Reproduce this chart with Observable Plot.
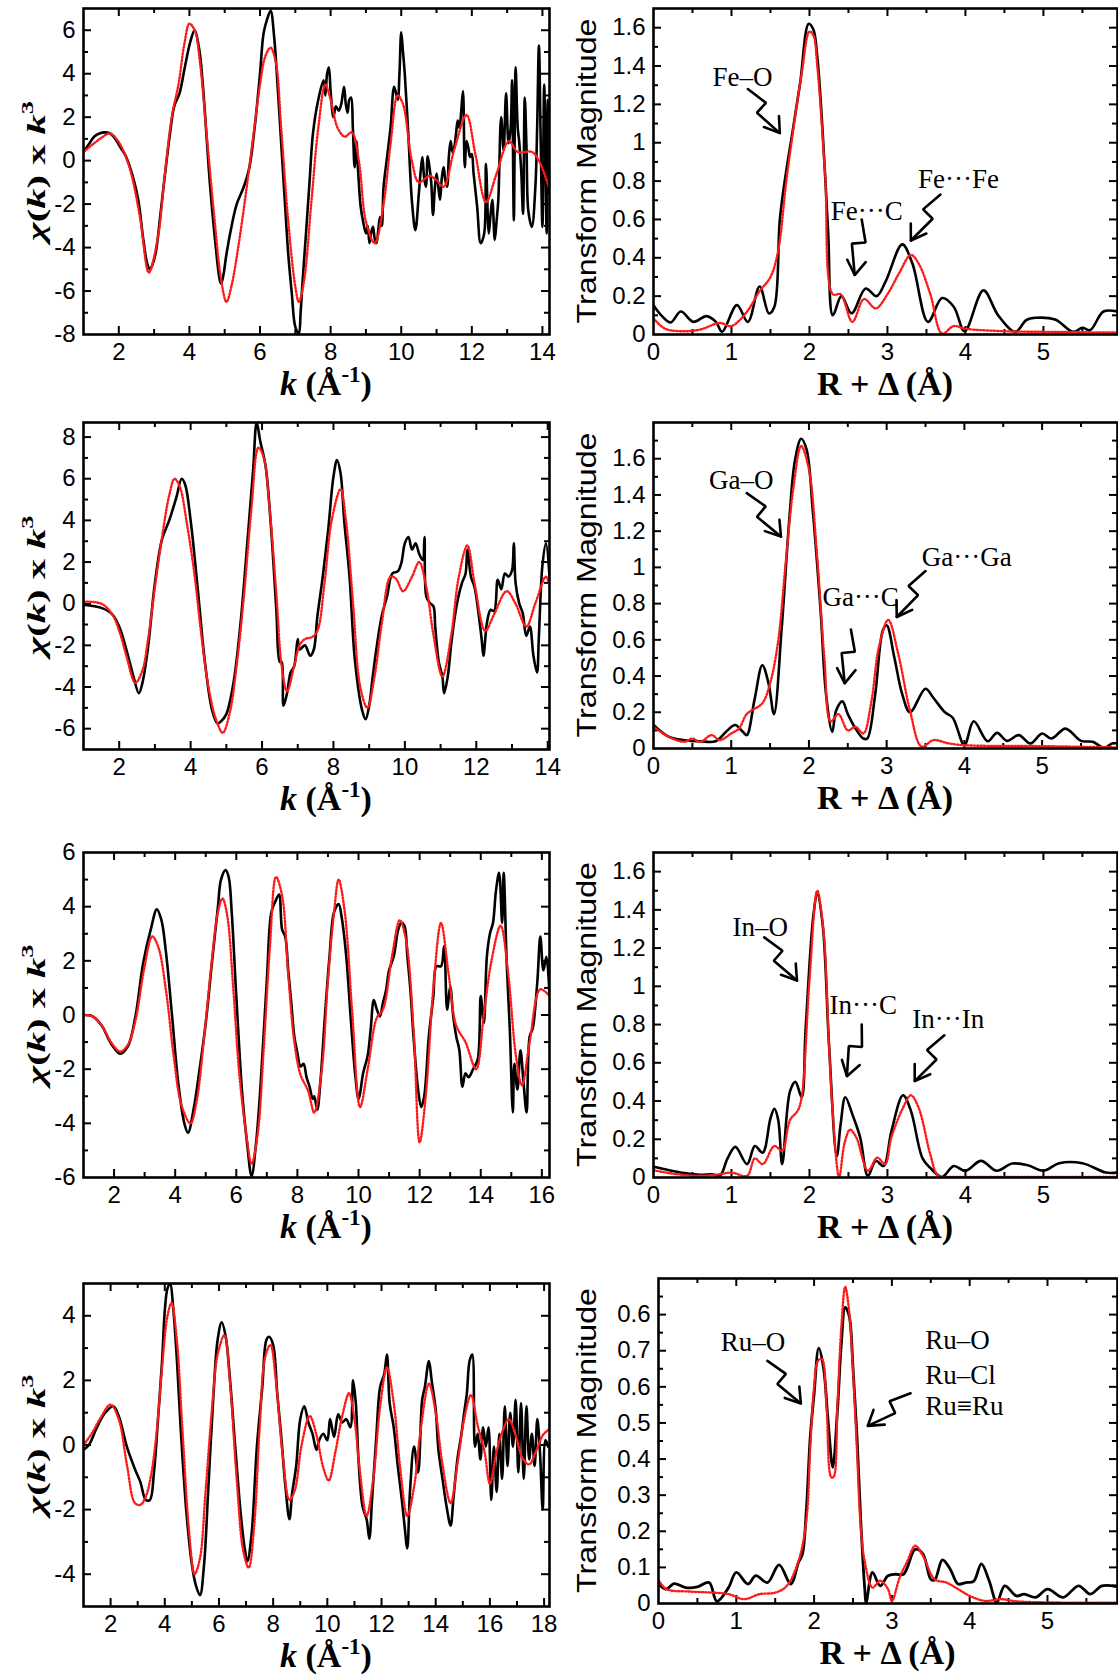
<!DOCTYPE html>
<html><head><meta charset="utf-8">
<script src="https://cdn.jsdelivr.net/npm/d3@7"></script>
<script src="https://cdn.jsdelivr.net/npm/@observablehq/plot@0.6"></script>
<style>
html,body{margin:0;padding:0;background:#fff;}
#wrap{position:relative;width:1118px;height:1680px;overflow:hidden;background:#fff;}
#wrap svg{position:absolute;}
</style></head><body><div id="wrap"></div>
<script>
// ---------------- DATA ----------------
// Fe : chi(k)*k^3  (experiment, fit)
const feChiExp = [[1.0,0.4],[1.15,0.75],[1.3,1.1],[1.45,1.25],[1.6,1.3],[1.75,1.25],[1.9,1.0],[2.05,0.6],[2.2,0.2],[2.4,-0.75],[2.55,-1.8],[2.7,-3.7],[2.8,-4.7],[2.88,-5.0],[2.95,-4.8],[3.05,-4.2],[3.17,-2.6],[3.3,-0.75],[3.45,1.25],[3.57,2.5],[3.72,3.1],[3.87,4.3],[4.03,5.5],[4.15,6.0],[4.28,5.1],[4.38,3.5],[4.48,1.25],[4.58,-1.05],[4.73,-3.7],[4.86,-5.5],[4.9,-5.66],[4.97,-5.2],[5.04,-4.4],[5.19,-3.05],[5.34,-2.0],[5.54,-1.2],[5.7,-0.3],[5.85,1.55],[6.0,4.0],[6.1,5.85],[6.2,6.5],[6.3,6.9],[6.4,5.7],[6.5,3.4],[6.6,0.8],[6.7,-1.8],[6.8,-4.3],[6.9,-6.1],[7.0,-7.65],[7.1,-7.96],[7.15,-7.0],[7.2,-5.7],[7.3,-3.4],[7.4,-1.06],[7.5,1.25],[7.65,2.8],[7.8,3.7],[7.85,3.0],[7.9,4.0],[7.95,4.3],[8.0,3.2],[8.08,2.0],[8.15,2.5],[8.23,2.3],[8.3,2.6],[8.38,3.4],[8.43,2.6],[8.48,2.2],[8.53,2.8],[8.58,2.9],[8.63,1.5],[8.68,-0.3],[8.73,0.9],[8.78,-0.5],[8.85,-2.1],[8.92,-2.8],[9.0,-3.35],[9.05,-3.0],[9.1,-3.8],[9.15,-3.3],[9.2,-3.05],[9.25,-3.6],[9.3,-3.8],[9.35,-3.2],[9.4,-2.6],[9.45,-3.0],[9.5,-1.2],[9.6,0.17],[9.7,1.55],[9.8,3.4],[9.9,2.8],[9.95,4.0],[10.0,5.9],[10.05,5.0],[10.1,4.0],[10.2,1.25],[10.3,-1.8],[10.4,-3.2],[10.5,-1.5],[10.55,-0.5],[10.6,0.17],[10.65,-0.8],[10.7,-1.2],[10.75,0.2],[10.8,-0.3],[10.85,-1.0],[10.9,-2.5],[10.95,-1.3],[11.0,-0.6],[11.05,-1.2],[11.1,-1.8],[11.15,-0.8],[11.2,-0.3],[11.25,-0.9],[11.3,-1.2],[11.35,0.2],[11.4,0.9],[11.45,0.4],[11.5,0.6],[11.55,1.2],[11.6,1.85],[11.65,1.5],[11.7,2.3],[11.75,3.2],[11.8,-0.3],[11.85,0.9],[11.9,0.6],[11.95,0.17],[12.0,0.3],[12.05,-0.6],[12.15,-2.1],[12.25,-3.8],[12.35,-3.35],[12.4,-0.15],[12.48,-3.35],[12.53,-2.5],[12.58,-1.8],[12.65,-3.65],[12.7,-2.8],[12.75,-1.8],[12.83,2.0],[12.9,0.5],[12.97,3.1],[13.04,0.8],[13.1,1.5],[13.14,3.7],[13.19,-2.75],[13.24,4.3],[13.3,1.5],[13.34,0.9],[13.4,-0.5],[13.45,-2.45],[13.5,2.9],[13.55,0.5],[13.6,-2.3],[13.7,-3.05],[13.8,-1.2],[13.85,1.5],[13.9,5.3],[13.95,1.0],[14.0,-3.05],[14.05,3.5],[14.12,-3.35],[14.15,2.8],[14.2,-1.5]];
const feChiFit = [[1.0,0.4],[1.3,0.8],[1.55,1.1],[1.75,1.25],[2.0,0.85],[2.3,-0.3],[2.6,-2.6],[2.85,-5.15],[3.1,-3.6],[3.3,-0.7],[3.5,2.0],[3.7,3.6],[3.85,5.3],[4.0,6.3],[4.15,6.0],[4.3,4.5],[4.5,1.0],[4.7,-2.5],[4.9,-5.5],[5.05,-6.5],[5.2,-5.7],[5.4,-3.8],[5.6,-1.5],[5.8,1.0],[6.0,3.5],[6.15,4.8],[6.3,5.2],[6.45,4.5],[6.6,1.5],[6.8,-2.8],[7.0,-5.8],[7.1,-6.5],[7.25,-5.5],[7.45,-2.0],[7.65,1.5],[7.85,3.5],[8.0,2.8],[8.2,1.5],[8.4,1.1],[8.6,1.3],[8.8,0.0],[9.0,-2.8],[9.25,-3.8],[9.5,-2.0],[9.7,0.8],[9.9,3.0],[10.05,2.6],[10.3,0.0],[10.5,-1.0],[10.8,-0.7],[11.0,-0.9],[11.2,-1.2],[11.5,0.5],[11.85,2.1],[12.1,0.3],[12.4,-1.9],[12.7,-0.6],[13.05,0.9],[13.3,0.4],[13.7,0.4],[13.9,0.0],[14.2,-1.3]];
// Fe : Fourier transform magnitude
const feFtExp = [[0,0.153],[0.1,0.10],[0.22,0.063],[0.35,0.12],[0.51,0.066],[0.68,0.096],[0.8,0.066],[0.88,0.014],[1.07,0.153],[1.21,0.066],[1.36,0.25],[1.48,0.11],[1.55,0.145],[1.62,0.6],[1.69,0.82],[1.78,1.05],[1.88,1.31],[1.99,1.62],[2.05,1.59],[2.1,1.45],[2.17,1.05],[2.24,0.53],[2.3,0.10],[2.41,0.2],[2.54,0.11],[2.72,0.24],[2.86,0.2],[2.98,0.28],[3.19,0.47],[3.32,0.37],[3.52,0.066],[3.7,0.19],[3.85,0.145],[3.99,0.017],[4.23,0.23],[4.42,0.10],[4.64,0.014],[4.78,0.075],[4.9,0.087],[5.15,0.078],[5.38,0.014],[5.5,0.035],[5.6,0.023],[5.77,0.12],[5.95,0.12]];
const feFtFit = [[0,0.084],[0.15,0.03],[0.4,0.017],[0.6,0.026],[0.85,0.06],[1.0,0.044],[1.2,0.12],[1.35,0.22],[1.5,0.3],[1.6,0.44],[1.7,0.79],[1.8,1.09],[1.9,1.36],[2.0,1.58],[2.05,1.56],[2.1,1.4],[2.2,0.84],[2.3,0.21],[2.4,0.21],[2.55,0.066],[2.7,0.185],[2.85,0.136],[3.0,0.21],[3.15,0.32],[3.3,0.415],[3.4,0.37],[3.55,0.21],[3.7,0.005],[3.85,0.044],[4.0,0.03],[4.5,0.017],[5.0,0.014],[5.95,0.01]];
// Ga
const gaChiExp = [[1.0,-0.05],[1.5,-0.2],[1.8,-0.5],[2.0,-1.1],[2.2,-2.2],[2.4,-3.5],[2.55,-4.3],[2.65,-3.8],[2.8,-2.2],[3.0,1.0],[3.2,3.1],[3.4,4.0],[3.6,5.1],[3.75,6.0],[3.85,5.7],[4.0,4.0],[4.2,0.7],[4.4,-2.8],[4.6,-5.1],[4.75,-5.75],[4.85,-5.65],[5.0,-5.3],[5.2,-3.8],[5.4,-0.9],[5.6,3.2],[5.75,6.4],[5.85,8.7],[5.95,7.8],[6.1,6.6],[6.25,3.7],[6.4,-0.3],[6.5,-2.8],[6.55,-2.8],[6.6,-4.9],[6.7,-4.3],[6.8,-3.3],[6.9,-3.0],[7.0,-1.7],[7.05,-2.2],[7.2,-2.0],[7.35,-2.5],[7.45,-2.2],[7.55,-0.6],[7.7,1.3],[7.85,3.5],[8.0,6.1],[8.1,6.9],[8.2,6.25],[8.3,4.0],[8.45,1.3],[8.6,-2.7],[8.8,-5.1],[8.9,-5.55],[9.0,-4.9],[9.1,-3.5],[9.2,-2.2],[9.35,-0.6],[9.5,0.35],[9.65,1.45],[9.8,1.55],[9.9,1.95],[10.0,2.9],[10.1,3.2],[10.2,2.6],[10.3,2.9],[10.4,2.4],[10.5,2.1],[10.55,3.2],[10.6,0.35],[10.7,0.03],[10.8,-0.13],[10.85,-1.1],[10.95,-2.8],[11.05,-3.5],[11.1,-4.3],[11.2,-3.5],[11.3,-1.9],[11.4,-0.6],[11.5,0.35],[11.6,1.0],[11.7,1.45],[11.75,2.6],[11.85,1.3],[11.95,0.8],[12.05,-0.3],[12.15,-1.7],[12.2,-2.5],[12.3,-0.9],[12.4,-0.3],[12.5,-0.35],[12.6,1.15],[12.7,0.7],[12.8,1.45],[12.9,1.3],[13.0,1.6],[13.05,2.9],[13.1,1.0],[13.2,0.03],[13.3,-0.45],[13.4,-1.55],[13.5,-1.1],[13.6,-2.5],[13.7,-3.3],[13.75,-1.7],[13.85,1.8],[13.95,2.9],[14.05,1.3]];
const gaChiFit = [[1.0,0.1],[1.5,0.0],[1.8,-0.5],[2.0,-1.3],[2.2,-2.5],[2.45,-3.8],[2.65,-3.2],[2.8,-1.8],[3.0,0.8],[3.2,3.2],[3.4,5.2],[3.55,6.0],[3.7,5.6],[3.9,3.8],[4.1,1.5],[4.3,-1.5],[4.5,-4.0],[4.7,-5.5],[4.9,-6.2],[5.1,-5.2],[5.3,-2.8],[5.5,0.5],[5.7,4.5],[5.9,7.5],[6.05,7.0],[6.2,4.8],[6.4,0.5],[6.55,-3.0],[6.7,-4.2],[6.9,-3.0],[7.05,-2.0],[7.2,-1.7],[7.4,-1.6],[7.55,-1.3],[7.75,1.0],[7.95,4.0],[8.2,5.5],[8.35,4.0],[8.55,0.0],[8.75,-4.0],[8.95,-5.0],[9.15,-3.5],[9.35,-1.0],[9.6,1.3],[9.75,1.2],[9.95,0.6],[10.2,1.3],[10.4,2.0],[10.6,0.8],[10.8,-1.5],[11.05,-3.5],[11.3,-1.5],[11.5,1.2],[11.75,2.8],[11.95,1.0],[12.25,-1.3],[12.5,-0.5],[12.85,0.6],[13.1,0.0],[13.4,-1.1],[13.65,0.0],[13.95,1.3],[14.05,0.9]];
const gaFtExp = [[0,0.13],[0.2,0.064],[0.4,0.046],[0.6,0.04],[0.8,0.04],[0.95,0.1],[1.05,0.13],[1.15,0.092],[1.2,0.074],[1.3,0.27],[1.4,0.46],[1.48,0.36],[1.55,0.19],[1.65,0.67],[1.75,1.28],[1.82,1.59],[1.9,1.71],[1.97,1.65],[2.05,1.31],[2.15,0.76],[2.22,0.3],[2.3,0.092],[2.35,0.21],[2.43,0.26],[2.5,0.19],[2.6,0.11],[2.7,0.055],[2.75,0.055],[2.85,0.29],[2.95,0.65],[3.0,0.68],[3.1,0.5],[3.2,0.3],[3.3,0.2],[3.5,0.33],[3.6,0.28],[3.75,0.2],[3.85,0.17],[4.0,0.02],[4.12,0.15],[4.3,0.04],[4.42,0.086],[4.55,0.042],[4.7,0.074],[4.85,0.028],[5.0,0.083],[5.12,0.055],[5.3,0.11],[5.5,0.042],[5.65,0.037],[5.8,0.004],[5.9,0.028],[5.97,0.028]];
const gaFtFit = [[0,0.12],[0.2,0.064],[0.4,0.037],[0.5,0.055],[0.6,0.037],[0.75,0.074],[0.85,0.046],[1.0,0.083],[1.1,0.11],[1.2,0.19],[1.4,0.25],[1.5,0.36],[1.6,0.58],[1.7,1.02],[1.8,1.44],[1.9,1.67],[2.0,1.54],[2.1,1.09],[2.2,0.49],[2.28,0.15],[2.38,0.19],[2.5,0.1],[2.6,0.12],[2.7,0.083],[2.8,0.25],[2.9,0.56],[3.02,0.71],[3.15,0.52],[3.3,0.21],[3.45,0.01],[3.6,0.046],[3.8,0.028],[4.0,0.018],[5.0,0.013],[5.97,0.006]];
// In
const inChiExp = [[1.0,0],[1.3,-0.05],[1.6,-0.4],[1.9,-1.05],[2.2,-1.43],[2.45,-1.16],[2.7,-0.05],[2.95,1.9],[3.2,3.15],[3.4,3.9],[3.55,3.5],[3.7,2.3],[3.9,-0.05],[4.1,-2.5],[4.3,-4.0],[4.42,-4.35],[4.6,-3.5],[4.8,-2.0],[5.0,-0.3],[5.2,1.9],[5.4,4.0],[5.5,5.0],[5.65,5.35],[5.75,5.1],[5.85,3.8],[6.0,0.7],[6.2,-3.0],[6.35,-4.7],[6.5,-5.95],[6.65,-4.7],[6.8,-2.5],[7.0,1.3],[7.15,3.8],[7.3,4.25],[7.4,4.45],[7.5,3.15],[7.6,2.9],[7.7,1.65],[7.8,0.45],[7.9,-0.8],[8.0,-1.4],[8.1,-1.9],[8.2,-1.8],[8.3,-2.3],[8.4,-2.65],[8.5,-3.1],[8.55,-3.0],[8.65,-3.5],[8.75,-2.5],[8.9,-0.05],[9.05,2.15],[9.2,3.8],[9.35,4.1],[9.45,3.6],[9.6,2.15],[9.75,-0.2],[9.9,-2.3],[10.0,-3.1],[10.05,-2.9],[10.15,-2.15],[10.3,-1.5],[10.4,-0.5],[10.5,0.55],[10.6,0.2],[10.7,-0.05],[10.8,0.45],[10.9,0.9],[11.0,1.65],[11.15,2.15],[11.3,3.15],[11.4,3.4],[11.5,3.3],[11.6,2.15],[11.7,0.9],[11.8,-0.8],[11.95,-2.75],[12.05,-3.4],[12.15,-3.0],[12.3,-0.8],[12.45,0.7],[12.55,1.8],[12.7,1.8],[12.8,2.55],[12.9,0.2],[13.0,1.05],[13.1,-0.05],[13.2,-0.8],[13.3,-1.3],[13.4,-2.65],[13.5,-2.15],[13.6,-2.3],[13.75,-2.0],[13.9,-1.65],[14.0,0.7],[14.1,-0.3],[14.2,2.15],[14.3,3.0],[14.4,3.4],[14.5,4.6],[14.6,5.25],[14.7,3.4],[14.75,5.25],[14.85,1.9],[14.95,-0.5],[15.05,-3.6],[15.1,-1.8],[15.2,-2.75],[15.3,-1.3],[15.4,-2.5],[15.5,-3.6],[15.6,-0.8],[15.7,-0.5],[15.85,1.2],[15.95,2.9],[16.05,1.65],[16.15,2.15],[16.25,0.7]];
const inChiFit = [[1.0,0.0],[1.3,-0.05],[1.6,-0.4],[1.9,-1.0],[2.2,-1.35],[2.45,-1.1],[2.7,-0.2],[3.0,1.8],[3.25,2.9],[3.45,2.5],[3.7,0.9],[3.95,-1.5],[4.2,-3.3],[4.5,-4.0],[4.7,-3.2],[4.95,-0.8],[5.2,2.0],[5.4,3.8],[5.55,4.3],[5.7,3.7],[5.9,1.0],[6.1,-2.2],[6.35,-4.6],[6.5,-5.5],[6.7,-4.4],[6.9,-1.2],[7.1,2.5],[7.3,5.1],[7.5,4.4],[7.7,1.5],[7.9,-1.0],[8.1,-2.2],[8.35,-2.8],[8.55,-3.6],[8.8,-2.0],[9.0,1.3],[9.2,3.8],[9.35,5.0],[9.55,3.8],[9.8,0.0],[10.05,-3.4],[10.3,-2.0],[10.6,-0.1],[10.8,0.2],[11.1,2.2],[11.35,3.5],[11.55,2.8],[11.8,-0.5],[12.0,-4.7],[12.2,-3.0],[12.45,1.0],[12.7,3.4],[12.95,1.5],[13.2,-0.4],[13.5,-1.0],[13.85,-2.0],[14.1,0.0],[14.35,2.0],[14.65,3.3],[14.9,1.5],[15.15,-1.5],[15.35,-2.6],[15.6,-1.0],[15.95,0.95],[16.25,0.7]];
const inFtExp = [[0,0.056],[0.2,0.038],[0.4,0.023],[0.6,0.014],[0.75,0.017],[0.85,0.009],[0.95,0.1],[1.05,0.16],[1.2,0.07],[1.3,0.165],[1.4,0.13],[1.5,0.31],[1.55,0.36],[1.6,0.3],[1.65,0.07],[1.75,0.45],[1.82,0.5],[1.9,0.42],[1.95,0.77],[2.05,1.37],[2.1,1.48],[2.17,1.32],[2.25,0.7],[2.35,0.11],[2.4,0.28],[2.46,0.42],[2.55,0.33],[2.65,0.21],[2.75,0.009],[2.85,0.087],[2.95,0.06],[3.05,0.24],[3.2,0.43],[3.3,0.35],[3.45,0.1],[3.55,0.05],[3.7,0.003],[3.85,0.06],[4.0,0.035],[4.2,0.087],[4.4,0.035],[4.6,0.073],[4.8,0.064],[5.0,0.035],[5.2,0.075],[5.5,0.075],[5.8,0.026],[5.95,0.026]];
const inFtFit = [[0,0.038],[0.3,0.017],[0.6,0.009],[0.85,0.017],[1.0,0.026],[1.2,0.009],[1.3,0.1],[1.4,0.07],[1.55,0.165],[1.65,0.14],[1.75,0.3],[1.85,0.35],[1.9,0.42],[2.0,1.03],[2.1,1.5],[2.18,1.29],[2.25,0.7],[2.3,0.33],[2.38,0.003],[2.45,0.18],[2.52,0.25],[2.6,0.21],[2.75,0.035],[2.87,0.104],[2.97,0.07],[3.05,0.21],[3.2,0.365],[3.3,0.43],[3.4,0.365],[3.55,0.12],[3.65,0.009],[3.8,0.003],[4.0,0.003],[5.95,0.003]];
// Ru
const ruChiExp = [[1.0,-0.15],[1.2,0.0],[1.5,0.55],[1.8,1.0],[2.1,1.2],[2.3,0.9],[2.6,-0.05],[2.9,-0.75],[3.1,-1.15],[3.3,-1.7],[3.45,-1.7],[3.6,-0.85],[3.75,0.8],[3.9,2.6],[4.0,4.15],[4.1,4.85],[4.2,5.0],[4.3,4.35],[4.45,2.6],[4.6,0.35],[4.8,-2.1],[5.0,-3.7],[5.15,-4.35],[5.3,-4.65],[5.45,-3.7],[5.6,-1.45],[5.8,1.6],[5.95,3.25],[6.1,3.8],[6.25,3.35],[6.4,2.1],[6.6,-0.05],[6.8,-2.1],[6.95,-3.2],[7.05,-3.6],[7.2,-2.8],[7.4,-0.05],[7.6,1.8],[7.75,3.25],[7.85,3.35],[8.0,3.1],[8.15,1.6],[8.3,0.25],[8.45,-1.25],[8.6,-2.3],[8.7,-1.5],[8.85,-0.65],[9.0,0.8],[9.15,1.2],[9.3,0.7],[9.45,0.35],[9.6,-0.15],[9.7,0.15],[9.85,0.35],[10.0,0.15],[10.1,0.8],[10.25,0.25],[10.4,0.95],[10.55,0.7],[10.7,0.8],[10.85,0.55],[10.95,2.0],[11.05,1.3],[11.15,-0.45],[11.3,-1.9],[11.45,-2.3],[11.55,-2.9],[11.65,-1.7],[11.8,0.15],[11.95,1.8],[12.1,2.2],[12.2,2.8],[12.3,1.3],[12.45,0.55],[12.6,-0.65],[12.75,-1.7],[12.85,-2.5],[12.95,-3.2],[13.05,-1.45],[13.2,-0.05],[13.35,-0.85],[13.5,1.4],[13.6,1.8],[13.75,2.6],[13.85,2.0],[14.0,1.1],[14.1,-0.15],[14.25,-1.05],[14.4,-1.9],[14.55,-2.5],[14.65,-1.7],[14.8,-0.45],[14.95,0.35],[15.05,1.0],[15.15,1.6],[15.25,2.6],[15.35,2.8],[15.45,-0.05],[15.55,0.35],[15.65,-0.45],[15.75,0.55],[15.85,-0.05],[15.95,0.55],[16.05,-1.7],[16.15,-0.05],[16.25,-1.45],[16.35,0.35],[16.45,-1.05],[16.55,1.2],[16.65,-0.65],[16.75,1.0],[16.85,-0.05],[16.95,1.4],[17.05,-0.85],[17.15,1.3],[17.25,-1.05],[17.35,1.2],[17.45,-0.45],[17.55,0.35],[17.65,-0.65],[17.75,0.8],[17.85,-0.25],[17.95,-2.0],[18.05,0.15],[18.15,-0.05]];
const ruChiFit = [[1.0,0.0],[1.3,0.35],[1.6,0.8],[2.0,1.25],[2.3,0.8],[2.6,-0.6],[2.9,-1.8],[3.1,-1.85],[3.3,-1.6],[3.5,-0.9],[3.7,0.4],[3.9,2.4],[4.1,4.0],[4.25,4.4],[4.45,3.2],[4.65,0.5],[4.9,-2.7],[5.1,-4.0],[5.3,-3.5],[5.5,-1.5],[5.75,1.2],[5.95,2.8],[6.2,3.4],[6.4,2.0],[6.65,-1.0],[6.9,-3.3],[7.1,-3.8],[7.3,-2.5],[7.5,0.5],[7.7,2.7],[7.9,3.1],[8.1,2.0],[8.35,-0.3],[8.6,-1.7],[8.8,-1.4],[9.05,0.0],[9.35,0.9],[9.6,0.3],[9.85,-0.7],[10.05,-1.1],[10.3,-0.2],[10.55,0.9],[10.8,1.6],[11.0,0.8],[11.2,-0.8],[11.45,-2.2],[11.7,-1.0],[11.95,1.2],[12.2,2.4],[12.45,1.3],[12.7,-0.8],[12.95,-2.2],[13.2,-1.3],[13.45,0.5],[13.75,1.9],[14.0,1.0],[14.25,-0.6],[14.55,-1.8],[14.8,-0.6],[15.05,0.8],[15.3,1.55],[15.55,0.6],[15.8,-0.2],[16.0,-1.2],[16.25,-0.2],[16.5,0.5],[16.7,0.8],[16.95,0.3],[17.2,-0.4],[17.45,-0.6],[17.7,-0.2],[17.95,0.3],[18.2,0.5]];
const ruFtExp = [[0,0.054],[0.1,0.04],[0.2,0.055],[0.35,0.044],[0.5,0.046],[0.65,0.058],[0.75,0.006],[0.9,0.044],[1.0,0.086],[1.15,0.054],[1.25,0.077],[1.4,0.058],[1.55,0.107],[1.7,0.054],[1.8,0.114],[1.85,0.137],[1.9,0.257],[1.95,0.46],[2.0,0.58],[2.06,0.707],[2.12,0.654],[2.18,0.506],[2.24,0.377],[2.3,0.534],[2.35,0.718],[2.4,0.82],[2.45,0.797],[2.5,0.654],[2.55,0.469],[2.6,0.229],[2.65,0.044],[2.67,0.003],[2.75,0.086],[2.85,0.049],[2.95,0.077],[3.05,0.081],[3.15,0.081],[3.3,0.15],[3.4,0.137],[3.5,0.067],[3.55,0.065],[3.65,0.121],[3.75,0.095],[3.85,0.054],[3.95,0.058],[4.05,0.061],[4.15,0.11],[4.25,0.063],[4.35,0.003],[4.45,0.049],[4.6,0.021],[4.7,0.026],[4.85,0.017],[5.0,0.04],[5.2,0.017],[5.4,0.049],[5.55,0.026],[5.7,0.049],[5.9,0.046]];
const ruFtFit = [[0,0.065],[0.1,0.04],[0.4,0.033],[0.7,0.03],[0.9,0.026],[1.1,0.012],[1.3,0.026],[1.5,0.03],[1.65,0.049],[1.8,0.118],[1.9,0.229],[1.95,0.43],[2.0,0.6],[2.05,0.672],[2.1,0.677],[2.16,0.543],[2.22,0.35],[2.25,0.35],[2.3,0.55],[2.35,0.765],[2.4,0.877],[2.45,0.81],[2.5,0.645],[2.55,0.43],[2.6,0.21],[2.65,0.118],[2.75,0.044],[2.85,0.063],[2.95,0.04],[3.0,0.007],[3.1,0.072],[3.2,0.118],[3.3,0.16],[3.4,0.132],[3.55,0.067],[3.7,0.058],[3.85,0.04],[4.0,0.021],[4.2,0.007],[4.4,0.012],[4.6,0.006],[5.0,0.003],[5.9,0.002]];

// tick values / labels
const chiTicksFe = [-8,-6,-4,-2,0,2,4,6];
const chiTicksGa = [-6,-4,-2,0,2,4,6,8];
const chiTicksIn = [-6,-4,-2,0,2,4,6];
const chiTicksRu = [-4,-2,0,2,4];
const kTicks14 = [2,4,6,8,10,12,14];
const kTicks16 = [2,4,6,8,10,12,14,16];
const kTicks18 = [2,4,6,8,10,12,14,16,18];
const rTicks = [0,1,2,3,4,5];
const ftTicks = [0,0.2,0.4,0.6,0.8,1.0,1.2,1.4,1.6];
const ftLabels = ["0","0.2","0.4","0.6","0.8","1","1.2","1.4","1.6"];
const ruFtTicks = [0,0.1,0.2,0.3,0.4,0.5,0.6,0.7,0.8];
const ruFtLabels = ["0","0.1","0.2","0.3","0.4","0.5","0.6","0.7","0.6"];

// annotations (data units)
const feNotes = [{x:1.14,y:1.34,t:"Fe–O"},{x:2.735,y:0.64,t:"Fe···C"},{x:3.91,y:0.807,t:"Fe···Fe"}];
const feArrows = [{tx:1.21,ty:1.28,hx:1.62,hy:1.05,s:1},{tx:2.67,ty:0.60,hx:2.58,hy:0.31,s:1},{tx:3.68,ty:0.73,hx:3.30,hy:0.49,s:-1}];
const gaNotes = [{x:1.13,y:1.48,t:"Ga–O"},{x:2.665,y:0.837,t:"Ga···C"},{x:4.03,y:1.057,t:"Ga···Ga"}];
const gaArrows = [{tx:1.2,ty:1.41,hx:1.64,hy:1.17,s:1},{tx:2.54,ty:0.657,hx:2.46,hy:0.36,s:1},{tx:3.5,ty:0.98,hx:3.13,hy:0.726,s:-1}];
const inNotes = [{x:1.37,y:1.31,t:"In–O"},{x:2.69,y:0.9,t:"In···C"},{x:3.78,y:0.826,t:"In···In"}];
const inArrows = [{tx:1.42,ty:1.256,hx:1.84,hy:1.03,s:1},{tx:2.67,ty:0.80,hx:2.48,hy:0.53,s:1},{tx:3.73,ty:0.744,hx:3.35,hy:0.504,s:-1}];
const ruNotes = [{x:1.215,y:0.723,t:"Ru–O"}];
const ruBlock = [{x:3.43,y:0.729,t:"Ru–O"},{x:3.43,y:0.633,t:"Ru–Cl"},{x:3.43,y:0.545,t:"Ru≡Ru"}];
const ruArrows = [{tx:1.4,ty:0.672,hx:1.83,hy:0.554,s:1},{tx:3.24,ty:0.582,hx:2.69,hy:0.492,s:-1}];

// ---------------- DRAWING ----------------
const SANS = "'Liberation Sans', Arial, Helvetica, sans-serif";
const SERIF = "'Liberation Serif', 'Times New Roman', Times, serif";
const wrap = document.getElementById("wrap");

function lookupFmt(vals, labels) {
  return d => { const i = vals.findIndex(v => Math.abs(v - d) < 1e-9); return i < 0 ? "" : labels[i]; };
}
function stepRange(a, b, step) { const out = []; for (let v = a; v <= b + 1e-9; v += step) out.push(+v.toFixed(4)); return out; }

function arrowRows(arrows, x0, y0, kx, ky) {
  const rows = [];
  arrows.forEach((a, j) => {
    const toP = (x, y) => [(x - x0) * kx, -(y - y0) * ky];
    const toD = p => ({x: x0 + p[0] / kx, y: y0 - p[1] / ky});
    const T = toP(a.tx, a.ty), P = toP(a.hx, a.hy);
    const dx = P[0] - T[0], dy = P[1] - T[1], L = Math.hypot(dx, dy);
    const u = [dx / L, dy / L], n = [u[1] * a.s, -u[0] * a.s];
    const B = [T[0] + 0.40 * L * u[0] + 0.12 * L * n[0], T[1] + 0.40 * L * u[1] + 0.12 * L * n[1]];
    const C = [T[0] + 0.45 * L * u[0] - 0.12 * L * n[0], T[1] + 0.45 * L * u[1] - 0.12 * L * n[1]];
    const h = 17, ang = 33 * Math.PI / 180;
    const rot = (v, t) => [v[0] * Math.cos(t) - v[1] * Math.sin(t), v[0] * Math.sin(t) + v[1] * Math.cos(t)];
    const back = [-u[0], -u[1]];
    const b1 = rot(back, ang), b2 = rot(back, -ang);
    const W1 = [P[0] + h * b1[0], P[1] + h * b1[1]], W2 = [P[0] + h * b2[0], P[1] + h * b2[1]];
    [T, B, C, P].forEach(p => rows.push({...toD(p), id: "s" + j}));
    [W1, P, W2].forEach(p => rows.push({...toD(p), id: "h" + j}));
  });
  return rows;
}

function drawPanel(c) {
  const iw = c.width - c.ml - c.mr, ih = c.height - c.mt - c.mb;
  const [x0, x1] = c.xd, [y0, y1] = c.yd;
  const kx = iw / (x1 - x0), ky = ih / (y1 - y0);
  const inside = (arr, a, b) => arr.filter(v => v > a + 1e-9 && v < b - 1e-9);
  const xMaj = inside(c.xt, x0, x1), yMaj = inside(c.yt, y0, y1);
  const xMin = inside(c.xm, x0, x1), yMin = inside(c.ym, y0, y1);
  const tk = {stroke: "black", strokeWidth: 2};
  const marks = [];
  const addX = (arr, L) => {
    marks.push(Plot.ruleX(arr, {x: d => d, y1: () => y0, y2: () => y0 + L / ky, ...tk}));
    marks.push(Plot.ruleX(arr, {x: d => d, y1: () => y1, y2: () => y1 - L / ky, ...tk}));
  };
  const addY = (arr, L) => {
    marks.push(Plot.ruleY(arr, {y: d => d, x1: () => x0, x2: () => x0 + L / kx, ...tk}));
    marks.push(Plot.ruleY(arr, {y: d => d, x1: () => x1, x2: () => x1 - L / kx, ...tk}));
  };
  addX(xMaj, 8); addX(xMin, 5); addY(yMaj, 8); addY(yMin, 5);
  marks.push(Plot.line(c.exp, {x: d => d[0], y: d => d[1], stroke: "black", strokeWidth: c.bw || 2.6, curve: "catmull-rom", clip: true}));
  marks.push(Plot.line(c.fit, {x: d => d[0], y: d => d[1], stroke: "#ff1a1a", strokeWidth: 2.4, strokeDasharray: "1.4,2.0", curve: "catmull-rom", clip: true}));
  const txt = {x: "x", y: "y", text: "t", fontFamily: SERIF, fontSize: 27, fill: "black"};
  if (c.notes) marks.push(Plot.text(c.notes, {...txt, textAnchor: "middle"}));
  if (c.block) marks.push(Plot.text(c.block, {...txt, textAnchor: "start"}));
  if (c.arrows) {
    marks.push(Plot.line(arrowRows(c.arrows, x0, y0, kx, ky), {x: "x", y: "y", z: "id", stroke: "black", strokeWidth: 2.6, strokeLinejoin: "miter", curve: "linear"}));
  }
  marks.push(Plot.frame({stroke: "black", strokeWidth: 2.6}));
  const svg = Plot.plot({
    width: c.width, height: c.height,
    marginTop: c.mt, marginBottom: c.mb, marginLeft: c.ml, marginRight: c.mr,
    x: {domain: c.xd, ticks: c.xt, tickFormat: c.xf, tickSize: 0, tickPadding: 8, label: null},
    y: {domain: c.yd, ticks: c.yt, tickFormat: c.yf, tickSize: 0, tickPadding: 8, label: null},
    style: {fontFamily: SANS, fontSize: "24px", color: "black", background: "transparent", overflow: "visible"},
    marks
  });
  svg.style.left = c.left + "px";
  svg.style.top = c.top + "px";
  const s = d3.select(svg);
  const cy = c.mt + ih / 2;
  if (c.kind === "chi") {
    const t = s.append("text")
      .attr("transform", `translate(45,${cy}) rotate(-90)`)
      .attr("text-anchor", "middle")
      .attr("font-family", SERIF).attr("font-weight", "bold").attr("font-size", 26)
      .attr("textLength", 140).attr("lengthAdjust", "spacingAndGlyphs")
      .attr("fill", "black");
    t.append("tspan").attr("font-style", "italic").text("χ");
    t.append("tspan").text("(");
    t.append("tspan").attr("font-style", "italic").text("k");
    t.append("tspan").text(") x ");
    t.append("tspan").attr("font-style", "italic").text("k");
    t.append("tspan").attr("font-size", 17).attr("dy", -12).text("3");
    const xt = s.append("text")
      .attr("x", c.ml + iw / 2 + 10).attr("y", c.mt + ih + 61)
      .attr("text-anchor", "middle")
      .attr("font-family", SERIF).attr("font-weight", "bold").attr("font-size", 34).attr("fill", "black");
    xt.append("tspan").attr("font-style", "italic").text("k");
    xt.append("tspan").text(" (Å");
    xt.append("tspan").attr("font-size", 23).attr("dy", -13).text("-1");
    xt.append("tspan").attr("dy", 13).text(")");
  } else {
    s.append("text")
      .attr("transform", `translate(36,${cy}) rotate(-90)`)
      .attr("text-anchor", "middle")
      .attr("font-family", SANS).attr("font-size", 27)
      .attr("textLength", 305).attr("lengthAdjust", "spacingAndGlyphs")
      .attr("fill", "black").text("Transform Magnitude");
    s.append("text")
      .attr("x", c.ml + iw / 2).attr("y", c.mt + ih + 61)
      .attr("text-anchor", "middle")
      .attr("font-family", SERIF).attr("font-weight", "bold").attr("font-size", 34)
      .attr("fill", "black").text("R + Δ (Å)");
  }
  wrap.appendChild(svg);
}

const intFmt = d => String(d);
const L = {left: 0, width: 560, ml: 83, mr: 11, kind: "chi", xf: intFmt, yf: intFmt};
const R = {left: 560, width: 558, ml: 93, mr: 1, kind: "ft", xf: intFmt, yf: lookupFmt(ftTicks, ftLabels), xt: rTicks, xm: stepRange(0.5, 5.5, 1), yt: ftTicks, ym: stepRange(0.1, 1.7, 0.2)};

drawPanel({...L, top: 0, height: 406, mt: 8, mb: 72, xd: [1, 14.2], yd: [-8, 7], xt: kTicks14, xm: stepRange(1, 15, 2), yt: chiTicksFe, ym: stepRange(-7, 7, 2), exp: feChiExp, fit: feChiFit});
drawPanel({...R, top: 0, height: 406, mt: 8, mb: 72, xd: [0, 5.95], yd: [0, 1.7], exp: feFtExp, fit: feFtFit, notes: feNotes, arrows: feArrows});

drawPanel({...L, top: 412, height: 409, mt: 10, mb: 72, xd: [1, 14.05], yd: [-7, 8.7], xt: kTicks14, xm: stepRange(1, 15, 2), yt: chiTicksGa, ym: stepRange(-7, 9, 2), exp: gaChiExp, fit: gaChiFit});
drawPanel({...R, top: 412, height: 408, mt: 10, mb: 72, xd: [0, 5.97], yd: [0, 1.8], exp: gaFtExp, fit: gaFtFit, notes: gaNotes, arrows: gaArrows});

drawPanel({...L, top: 842, height: 407, mt: 10, mb: 72, xd: [1, 16.25], yd: [-6, 6], xt: kTicks16, xm: stepRange(1, 17, 2), yt: chiTicksIn, ym: stepRange(-5, 5, 2), exp: inChiExp, fit: inChiFit});
drawPanel({...R, top: 842, height: 407, mt: 10, mb: 72, xd: [0, 5.95], yd: [0, 1.7], exp: inFtExp, fit: inFtFit, notes: inNotes, arrows: inArrows});

drawPanel({...L, top: 1273, height: 405, mt: 10, mb: 72, xd: [1, 18.2], yd: [-5, 5], xt: kTicks18, xm: stepRange(1, 19, 2), yt: chiTicksRu, ym: stepRange(-5, 5, 2), exp: ruChiExp, fit: ruChiFit});
drawPanel({...R, top: 1268, height: 410, mt: 10, mb: 75, ml: 98, xd: [0, 5.9], yd: [0, 0.9], yf: lookupFmt(ruFtTicks, ruFtLabels), yt: ruFtTicks, ym: stepRange(0.05, 0.85, 0.1), exp: ruFtExp, fit: ruFtFit, notes: ruNotes, block: ruBlock, arrows: ruArrows, bw: 2.8});
</script></body></html>
